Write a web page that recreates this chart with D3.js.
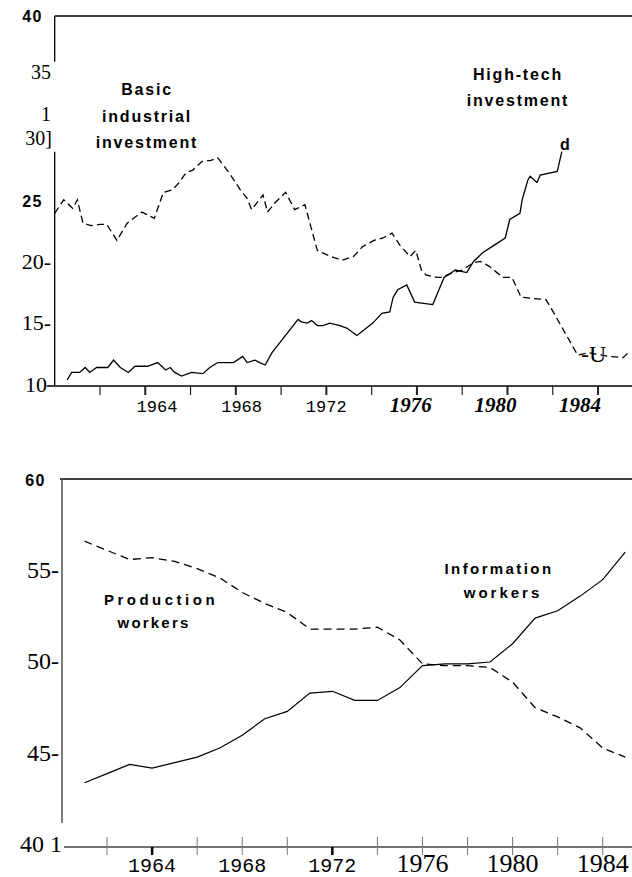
<!DOCTYPE html>
<html>
<head>
<meta charset="utf-8">
<script src="https://cdn.jsdelivr.net/npm/d3@7"></script>
<style>
  body { margin: 0; background: #fff; }
  svg { display: block; }
  .sans { font-family: "Liberation Sans", Arial, sans-serif; font-weight: bold; }
  .serif { font-family: "Liberation Serif", "Times New Roman", serif; }
  .mono { font-family: "Liberation Mono", monospace; }
</style>
</head>
<body>
<svg width="632" height="877"></svg>
<script>
// top panel: investment shares (year, percent)
const basicIndustrial = [
  [1960.0, 24.0], [1960.4, 25.1], [1960.8, 24.4], [1961.0, 25.1], [1961.25, 23.2],
  [1961.6, 23.0], [1962.0, 23.1], [1962.3, 23.1], [1962.75, 21.8], [1963.2, 23.2],
  [1963.85, 24.1], [1964.4, 23.6], [1964.8, 25.7], [1965.2, 25.9], [1965.5, 26.5],
  [1965.8, 27.3], [1966.1, 27.5], [1966.5, 28.2], [1966.9, 28.3], [1967.2, 28.5],
  [1967.7, 27.3], [1968.2, 25.9], [1968.5, 25.2], [1968.7, 24.3], [1969.2, 25.5],
  [1969.4, 24.1], [1969.7, 24.8], [1970.2, 25.7], [1970.6, 24.3], [1971.05, 24.7],
  [1971.6, 21.0], [1971.7, 20.9], [1972.2, 20.5], [1972.7, 20.2], [1973.2, 20.5],
  [1973.6, 21.3], [1974.1, 21.8], [1974.5, 22.0], [1974.9, 22.4], [1975.25, 21.4],
  [1975.7, 20.5], [1975.95, 21.0], [1976.2, 19.4], [1976.4, 19.0], [1976.9, 18.8],
  [1977.1, 18.8], [1977.6, 19.2], [1978.0, 19.4], [1978.5, 20.0], [1978.8, 20.1],
  [1979.2, 19.7], [1979.8, 18.8], [1980.2, 18.8], [1980.6, 17.2], [1981.1, 17.1],
  [1981.7, 17.0], [1981.9, 16.4], [1983.1, 12.5], [1983.6, 12.7], [1984.5, 12.4],
  [1985.1, 12.3], [1985.4, 12.8]
];
const highTech = [
  [1960.55, 10.5], [1960.75, 11.1], [1961.1, 11.1], [1961.35, 11.5], [1961.55, 11.1],
  [1961.85, 11.5], [1962.35, 11.5], [1962.6, 12.1], [1962.9, 11.5], [1963.25, 11.1],
  [1963.55, 11.6], [1964.1, 11.6], [1964.55, 11.9], [1964.9, 11.3], [1965.1, 11.5],
  [1965.3, 11.1], [1965.6, 10.8], [1966.05, 11.1], [1966.55, 11.0], [1966.85, 11.5],
  [1967.2, 11.9], [1967.9, 11.9], [1968.3, 12.4], [1968.5, 11.9], [1968.85, 12.1],
  [1969.05, 11.9], [1969.3, 11.7], [1969.6, 12.7], [1970.75, 15.4], [1970.9, 15.2],
  [1971.15, 15.1], [1971.35, 15.3], [1971.6, 14.9], [1971.85, 14.9], [1972.15, 15.1],
  [1972.6, 14.9], [1972.9, 14.7], [1973.35, 14.1], [1974.05, 15.1], [1974.45, 15.9],
  [1974.8, 16.0], [1974.95, 17.2], [1975.15, 17.8], [1975.55, 18.2], [1975.9, 16.8],
  [1976.3, 16.7], [1976.7, 16.6], [1977.2, 18.8], [1977.7, 19.4], [1978.2, 19.2],
  [1978.5, 20.1], [1978.9, 20.8], [1979.4, 21.4], [1979.9, 22.0], [1980.1, 23.5],
  [1980.55, 24.0], [1980.65, 25.1], [1980.9, 26.7], [1981.0, 27.0], [1981.3, 26.5],
  [1981.45, 27.1], [1982.2, 27.4], [1982.4, 29.0]
];

// bottom panel: share of workforce, yearly
const workerYears = [1961, 1962, 1963, 1964, 1965, 1966, 1967, 1968, 1969, 1970, 1971, 1972, 1973,
  1974, 1975, 1976, 1977, 1978, 1979, 1980, 1981, 1982, 1983, 1984, 1985];
const productionWorkers = [56.6, 56.1, 55.6, 55.7, 55.5, 55.1, 54.6, 53.8, 53.2, 52.7, 51.8, 51.8, 51.8,
  51.9, 51.2, 49.9, 49.8, 49.8, 49.7, 48.9, 47.5, 47.0, 46.4, 45.3, 44.8];
const informationWorkers = [43.4, 43.9, 44.4, 44.2, 44.5, 44.8, 45.3, 46.0, 46.9, 47.3, 48.3, 48.4, 47.9,
  47.9, 48.6, 49.8, 49.9, 49.9, 50.0, 51.0, 52.4, 52.8, 53.6, 54.5, 56.0];

const yearTicks = [1962, 1964, 1966, 1968, 1970, 1972, 1974, 1976, 1978, 1980, 1982, 1984];
const yearLabels = [1964, 1968, 1972, 1976, 1980, 1984];
const topYTicks = [40, 35, 30, 25, 20, 15, 10];
const topYLabels = ['40', '35', '30]', '25', '20-', '15-', '10'];
const botYTicks = [60, 55, 50, 45, 40];
const botYLabels = ['60', '55-', '50-', '45-', '40 1'];

const svg = d3.select('svg');

// ---------- top panel ----------
const xT = d3.scaleLinear().domain([1960, 1985.5]).range([54.7, 632]);
const yT = d3.scaleLinear().domain([10, 40]).range([386, 16]);
// the printed year labels sit on a slightly tighter spacing than the ticks
const xTLab = d3.scaleLinear().domain([1964, 1984]).range([157, 580]);

const topG = svg.append('g');

topG.append('line').attr('x1', xT(1960)).attr('x2', 632).attr('y1', yT(40)).attr('y2', yT(40))
  .attr('stroke', '#000').attr('stroke-width', 1.3);
// left axis is broken where the 35/30 labels sit
topG.append('line').attr('x1', xT(1960)).attr('x2', xT(1960)).attr('y1', yT(40)).attr('y2', yT(36.3))
  .attr('stroke', '#000').attr('stroke-width', 1.3);
topG.append('line').attr('x1', xT(1960)).attr('x2', xT(1960)).attr('y1', yT(29)).attr('y2', yT(10))
  .attr('stroke', '#000').attr('stroke-width', 1.3);
topG.append('line').attr('x1', xT(1960) - 8).attr('x2', 632).attr('y1', yT(10)).attr('y2', yT(10))
  .attr('stroke', '#000').attr('stroke-width', 1.5);

topG.selectAll('.tick').data(yearTicks).join('line')
  .attr('x1', d => xT(d)).attr('x2', d => xT(d))
  .attr('y1', yT(10)).attr('y2', yT(10) + 9)
  .attr('stroke', '#222').attr('stroke-width', d => d % 4 === 0 ? 2 : 1.2);

topG.selectAll('.ylab').data(topYTicks).join('text')
  .attr('class', d => (d === 40 || d === 25) ? 'sans' : 'serif')
  .attr('x', d => d === 30 ? 52 : (d === 40 || d === 25 ? 43 : (d === 10 ? 47 : 51)))
  .attr('y', d => yT(d) + (d === 35 ? 1 : 6))
  .attr('text-anchor', 'end')
  .attr('font-size', d => (d === 40 || d === 25) ? 16 : (d >= 30 ? 20 : 22))
  .attr('letter-spacing', d => (d === 40 || d === 25) ? 1.5 : 0)
  .text((d, i) => topYLabels[i]);
topG.append('text').attr('class', 'serif').attr('x', 46).attr('y', 121)
  .attr('text-anchor', 'middle').attr('font-size', 20).text('1');

topG.selectAll('.xlab').data(yearLabels).join('text')
  .attr('class', d => d >= 1976 ? 'serif' : 'mono')
  .attr('x', d => xTLab(d))
  .attr('y', 412)
  .attr('text-anchor', 'middle')
  .attr('font-size', d => d >= 1976 ? 21 : 17)
  .attr('font-weight', d => d >= 1976 ? 'bold' : 'normal')
  .attr('font-style', d => d >= 1976 ? 'italic' : 'normal')
  .text(d => d);

const lineT = d3.line().x(d => xT(d[0])).y(d => yT(d[1]));
topG.append('path').datum(basicIndustrial).attr('d', lineT)
  .attr('fill', 'none').attr('stroke', '#000').attr('stroke-width', 1.3)
  .attr('stroke-dasharray', '7,4');
topG.append('path').datum(highTech).attr('d', lineT)
  .attr('fill', 'none').attr('stroke', '#000').attr('stroke-width', 1.3);

function label(g, lines, cx, y0, gap, size, spacing) {
  lines.forEach((t, i) => {
    g.append('text').attr('class', 'sans')
      .attr('x', cx).attr('y', y0 + i * gap)
      .attr('text-anchor', 'middle')
      .attr('font-size', size)
      .attr('letter-spacing', spacing)
      .text(t);
  });
}
label(topG, ['Basic', 'industrial', 'investment'], 147, 95, 26.5, 16, 1.8);
label(topG, ['High-tech', 'investment'], 518, 80, 26, 16, 1.8);
topG.append('text').attr('class', 'sans').attr('x', 565).attr('y', 150)
  .attr('text-anchor', 'middle').attr('font-size', 16).text('d');
topG.append('text').attr('class', 'serif').attr('x', 581).attr('y', 362)
  .attr('font-size', 24).text('-U');

// ---------- bottom panel ----------
const xB = d3.scaleLinear().domain([1960, 1985.3]).range([62, 632]);
const yB = d3.scaleLinear().domain([40, 60]).range([845, 479]);

const botG = svg.append('g');

botG.append('line').attr('x1', xB(1960) - 2).attr('x2', 632).attr('y1', yB(60)).attr('y2', yB(60))
  .attr('stroke', '#000').attr('stroke-width', 1.3);
botG.append('line').attr('x1', xB(1960)).attr('x2', xB(1960)).attr('y1', yB(60)).attr('y2', yB(41.2))
  .attr('stroke', '#555').attr('stroke-width', 1.5);
botG.append('line').attr('x1', xB(1960) + 2).attr('x2', 632).attr('y1', yB(40) + 2).attr('y2', yB(40) + 2)
  .attr('stroke', '#444').attr('stroke-width', 1.3);

botG.selectAll('.tick').data(yearTicks).join('line')
  .attr('x1', d => xB(d)).attr('x2', d => xB(d))
  .attr('y1', d => (d === 1964 || d === 1972) ? yB(40) + 2 : yB(40) - 8)
  .attr('y2', yB(40) + 10)
  .attr('stroke', d => (d === 1964 || d === 1972) ? '#000' : '#777')
  .attr('stroke-width', d => (d === 1964 || d === 1972) ? 2.5 : 1);

botG.selectAll('.ylab').data(botYTicks).join('text')
  .attr('class', d => d === 60 ? 'sans' : 'serif')
  .attr('x', d => d === 60 ? 46 : (d === 40 ? 62 : 59))
  .attr('y', d => yB(d) + 7)
  .attr('text-anchor', 'end')
  .attr('font-size', d => d === 60 ? 16 : 24)
  .attr('letter-spacing', d => d === 60 ? 1.5 : 0)
  .text((d, i) => botYLabels[i]);

botG.selectAll('.xlab').data(yearLabels).join('text')
  .attr('class', d => d >= 1976 ? 'serif' : 'mono')
  .attr('x', d => xB(d))
  .attr('y', 872)
  .attr('text-anchor', 'middle')
  .attr('font-size', d => d >= 1976 ? 26 : 20)
  .text(d => d);

const lineB = series => d3.line().x((d, i) => xB(workerYears[i])).y(d => yB(d))(series);
botG.append('path').attr('d', lineB(productionWorkers))
  .attr('fill', 'none').attr('stroke', '#000').attr('stroke-width', 1.3)
  .attr('stroke-dasharray', '8,5');
botG.append('path').attr('d', lineB(informationWorkers))
  .attr('fill', 'none').attr('stroke', '#000').attr('stroke-width', 1.2);

label(botG, ['Production'], 161, 605, 0, 15, 3.5);
label(botG, ['workers'], 154, 628, 0, 15, 2.2);
label(botG, ['Information'], 499, 574, 0, 15, 2.4);
label(botG, ['workers'], 503, 598, 0, 15, 3);
</script>
</body>
</html>
